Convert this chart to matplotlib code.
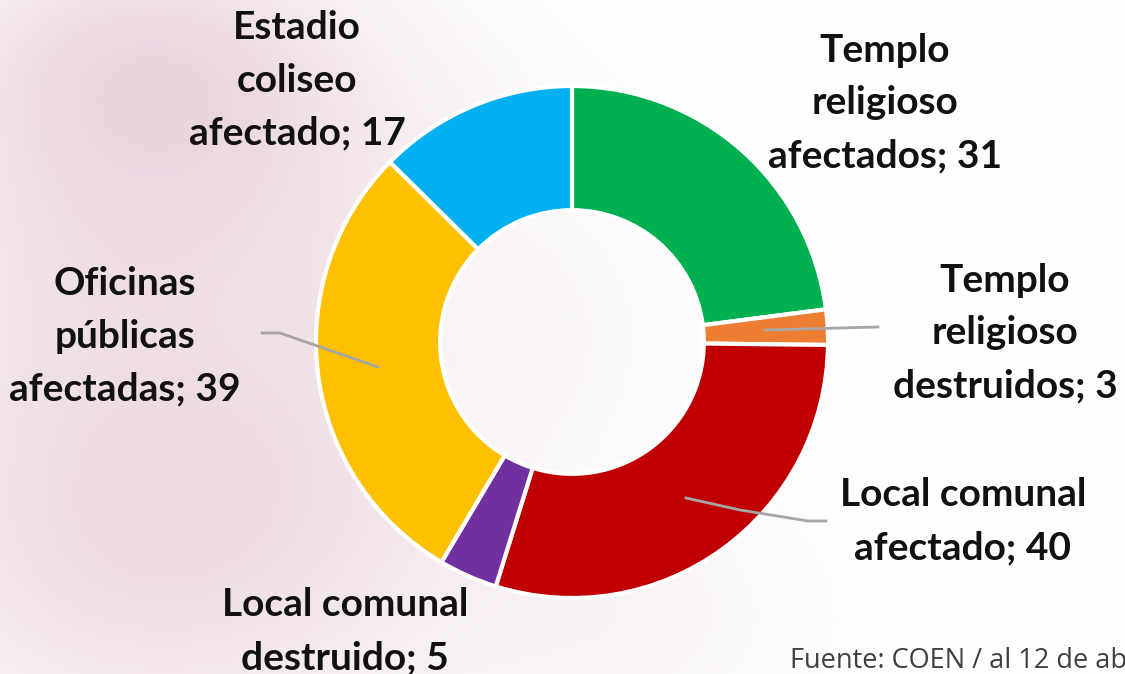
import numpy as np
import matplotlib.pyplot as plt

# data: building damage counts
categories = ['Templo\nreligioso\nafectados', 'Templo\nreligioso\ndestruidos',
              'Local comunal\nafectado', 'Local comunal\ndestruido',
              'Oficinas\npúblicas\nafectadas', 'Estadio\ncoliseo\nafectado']
values = [31, 3, 40, 5, 39, 17]
colors = ['#00b050', '#ed7d31', '#c00000', '#7030a0', '#ffc000', '#00b0f0']

W, H = 1125, 674
fig = plt.figure(figsize=(11.25, 6.74), dpi=100)
ax = fig.add_axes([0, 0, 1, 1])

# soft pink watercolour wash on the left
yy, xx = np.mgrid[0:H, 0:W]
wash = np.zeros((H, W))
for bx, by, sx, sy, a in [(120, 560, 260, 200, 0.6), (330, 420, 200, 260, 0.4),
                          (60, 250, 200, 250, 0.5), (250, 150, 220, 160, 0.35),
                          (620, 620, 180, 120, 0.2), (540, 330, 160, 160, 0.3),
                          (150, 50, 200, 120, 0.5)]:
    wash += a * np.exp(-(((xx - bx) / sx) ** 2 + ((yy - by) / sy) ** 2))
wash = np.clip(wash, 0, 1)
pink = np.array([234, 212, 222]) / 255
img = 1 - wash[..., None] * (1 - pink)
ax.imshow(img, extent=[0, W, 0, H], origin='upper', zorder=0)

cx, cy, r = 572, 332, 256
wedges, _ = ax.pie(values, colors=colors, startangle=90, counterclock=False,
                   center=(cx, cy), radius=r, frame=True,
                   wedgeprops=dict(width=r * 0.485, edgecolor='white', linewidth=3))
ax.set_xlim(0, W)
ax.set_ylim(0, H)
ax.set_aspect('equal')
ax.axis('off')

# inner hole slightly translucent white
hole = plt.Circle((cx, cy), r * 0.515, color='white', alpha=0.55, zorder=2)
ax.add_patch(hole)

label_pos = [(885, 571), (1005, 341), (963, 153), (345, 43), (125, 338), (297, 594)]
for name, v, (x, y) in zip(categories, values, label_pos):
    ax.text(x, y, f'{name}; {v}', ha='center', va='center', fontsize=28,
            fontweight='bold', family='Lato', color='#111111', linespacing=1.62, zorder=5)

# leader lines
leaders = [([765, 878], [344, 347]),
           ([686, 740, 808, 826], [176, 164, 153, 153]),
           ([378, 280, 262], [307, 341, 341])]
for xs, ys in leaders:
    ax.plot(xs, ys, color='#a6a6a6', linewidth=2, zorder=4)

ax.text(790, 6, 'Fuente: COEN / al 12 de abril', ha='left', va='baseline',
        fontsize=19.5, family='Open Sans', color='#404040', zorder=5)

fig.savefig('out.png', dpi=100)
